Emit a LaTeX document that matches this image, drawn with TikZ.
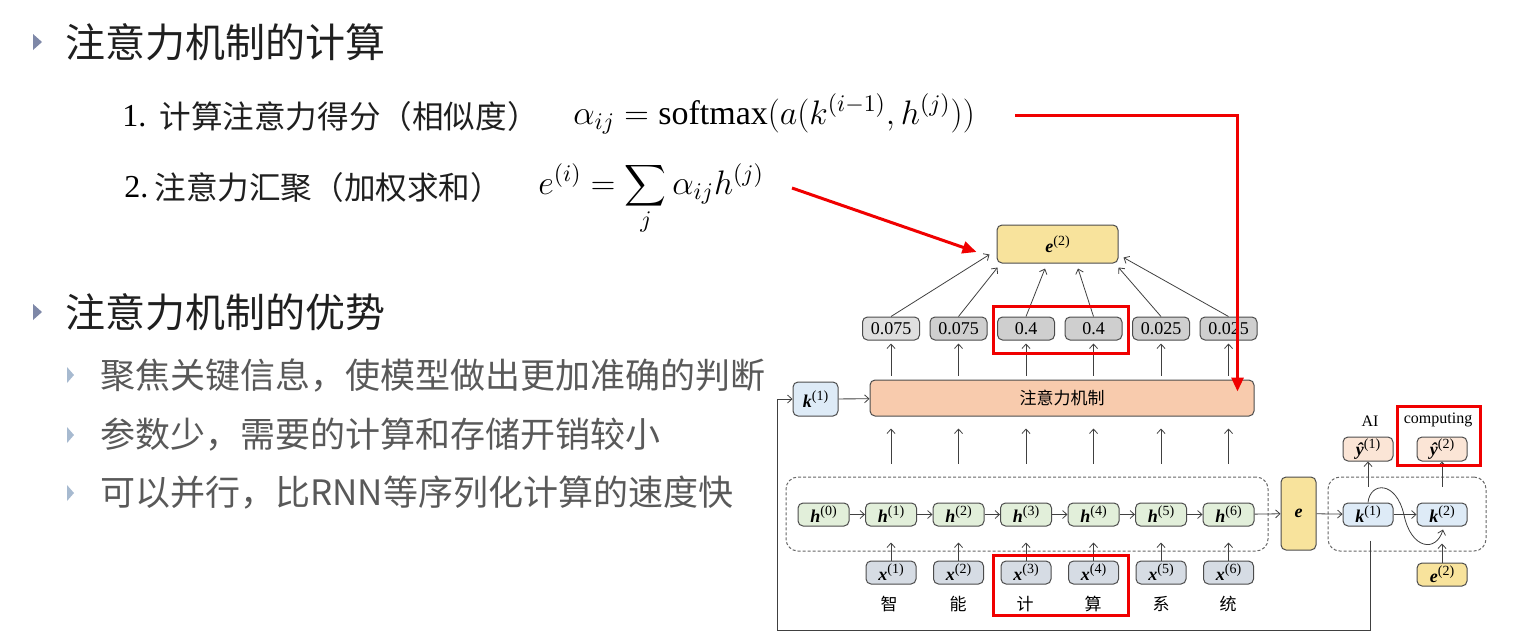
\RequirePackage{fix-cm}
\documentclass[tikz,border=0pt]{standalone}
\usepackage{fontspec}
\setmainfont{Liberation Serif}
\newfontfamily\cjk{Noto Sans CJK SC}
\usetikzlibrary{arrows.meta,calc}
\definecolor{titlec}{HTML}{1F1F1F}
\definecolor{subc}{HTML}{595959}
\definecolor{bulA}{HTML}{7E88A8}
\definecolor{bulB}{HTML}{A7BAD0}
\definecolor{hgreen}{HTML}{E2EFDA}
\definecolor{xgray}{HTML}{D6DCE4}
\definecolor{kblue}{HTML}{DEEBF7}
\definecolor{ypeach}{HTML}{FBE5D6}
\definecolor{eyellow}{HTML}{F8E39C}
\definecolor{attc}{HTML}{F8CBAD}
\definecolor{redc}{HTML}{F00000}
\newcommand\bvec[2]{\textbf{\textit{#1}}\raisebox{0.4em}{\fontsize{7}{8}\selectfont(#2)}}
\newcommand\bigsum{\mathop{\vcenter{\hbox{\scalebox{1.45}{$\displaystyle\sum$}}}}\limits}
\begin{document}
\begin{tikzpicture}[x=0.5pt,y=-0.5pt,
  box/.style={draw=black!70, line width=0.5pt, rounded corners=2.5pt, inner sep=0pt, font=\fontsize{9}{10}\selectfont},
  valbox/.style={box, fill=gray!38, minimum width=28.5pt, minimum height=11.5pt},
  hbox/.style={box, fill=hgreen, minimum width=25.5pt, minimum height=11.5pt},
  xbox/.style={box, fill=xgray, minimum width=25pt, minimum height=11.5pt},
  kbox/.style={box, fill=kblue, minimum width=25pt, minimum height=11.5pt},
  ybox/.style={box, fill=ypeach, minimum width=25pt, minimum height=12pt},
  ebox/.style={box, fill=eyellow},
  dashbox/.style={draw=black!60, line width=0.5pt, dash pattern=on 1.5pt off 1pt, rounded corners=6pt, inner sep=0pt, minimum height=37pt},
  arr/.style={draw=black!75, line width=0.4pt, -{Straight Barb[length=2.2pt,width=4pt]}},
  redarr/.style={draw=redc, line width=1.5pt, -{Triangle[length=7pt,width=6pt]}},
  redbox/.style={draw=redc, line width=1.5pt},
  lbl/.style={inner sep=0pt, font=\cjk\fontsize{8.5}{10}\selectfont}
]
\useasboundingbox (0,0) rectangle (1530,639);

% ---------- left text ----------
\fill[bulA] (33,34) -- (42,42) -- (33,50) -- cycle;
\node[anchor=west, inner sep=0, text=titlec, font=\cjk\fontsize{20}{24}\selectfont] (t1) at (65,42) {注意力机制的计算};

\node[anchor=west, inner sep=0, font=\fontsize{16}{18}\selectfont] (n1) at (122,116) {1.};
\node[anchor=west, inner sep=0, text=titlec, font=\cjk\fontsize{15.8}{18}\selectfont] (c1) at (159,116) {计算注意力得分（相似度）};
\node[anchor=base west, inner sep=0, font=\fontsize{17}{20}\selectfont] (f1) at (573,124) {$\alpha_{ij} = \mathrm{softmax}(a(k^{(i-1)}, h^{(j)}))$};

\node[anchor=west, inner sep=0, font=\fontsize{16}{18}\selectfont] (n2) at (124,187) {2.};
\node[anchor=west, inner sep=0, text=titlec, font=\cjk\fontsize{15.8}{18}\selectfont] (c2) at (154,187) {注意力汇聚（加权求和）};
\node[anchor=base west, inner sep=0, font=\fontsize{17}{20}\selectfont] (f2) at (538,194) {$e^{(i)} = \bigsum_{j} \alpha_{ij} h^{(j)}$};

\fill[bulA] (33,304) -- (42,312) -- (33,320) -- cycle;
\node[anchor=west, inner sep=0, text=titlec, font=\cjk\fontsize{20}{24}\selectfont] (t2) at (65,312) {注意力机制的优势};

\fill[bulB] (67,367) -- (74,375) -- (67,383) -- cycle;
\node[anchor=west, inner sep=0, text=subc, font=\cjk\fontsize{17.5}{20}\selectfont] (s1) at (100,375) {聚焦关键信息，使模型做出更加准确的判断};
\fill[bulB] (67,427) -- (74,435) -- (67,443) -- cycle;
\node[anchor=west, inner sep=0, text=subc, font=\cjk\fontsize{17.5}{20}\selectfont] (s2) at (100,435) {参数少，需要的计算和存储开销较小};
\fill[bulB] (67,485) -- (74,493) -- (67,501) -- cycle;
\node[anchor=west, inner sep=0, text=subc, font=\cjk\fontsize{17.5}{20}\selectfont] (s3) at (100,493) {可以并行，比RNN等序列化计算的速度快};

% ---------- diagram ----------
\node[ebox, minimum width=60.5pt, minimum height=19pt] (e2) at (1057.5,244) {\bvec{e}{2}};

\node[valbox, fill=gray!25] (v1) at (891,328.5) {0.075};
\node[valbox] (v2) at (958.5,328.5) {0.075};
\node[valbox] (v3) at (1026,328.5) {0.4};
\node[valbox] (v4) at (1093.5,328.5) {0.4};
\node[valbox] (v5) at (1161,328.5) {0.025};
\node[valbox] (v6) at (1228.5,328.5) {0.025};

\node[box, fill=attc, minimum width=192pt, minimum height=18pt, font=\cjk\fontsize{8.5}{10}\selectfont] (att) at (1062,398) {注意力机制};
\node[box, fill=kblue, minimum width=22.5pt, minimum height=17pt] (kL) at (815.5,399) {\bvec{k}{1}};

\node[dashbox, minimum width=241pt] (enc) at (1027,514) {};
\node[hbox] (h0) at (823.5,514.5) {\bvec{h}{0}};
\node[hbox] (h1) at (891,514.5) {\bvec{h}{1}};
\node[hbox] (h2) at (958.5,514.5) {\bvec{h}{2}};
\node[hbox] (h3) at (1026,514.5) {\bvec{h}{3}};
\node[hbox] (h4) at (1093.5,514.5) {\bvec{h}{4}};
\node[hbox] (h5) at (1161,514.5) {\bvec{h}{5}};
\node[hbox] (h6) at (1228.5,514.5) {\bvec{h}{6}};

\node[xbox] (x1) at (891,572.5) {\bvec{x}{1}};
\node[xbox] (x2) at (958.5,572.5) {\bvec{x}{2}};
\node[xbox] (x3) at (1026,572.5) {\bvec{x}{3}};
\node[xbox] (x4) at (1093.5,572.5) {\bvec{x}{4}};
\node[xbox] (x5) at (1161,572.5) {\bvec{x}{5}};
\node[xbox] (x6) at (1228.5,572.5) {\bvec{x}{6}};

\node[lbl] (l1) at (889,604) {智};
\node[lbl] (l2) at (958,604) {能};
\node[lbl] (l3) at (1025,604) {计};
\node[lbl] (l4) at (1093,604) {算};
\node[lbl] (l5) at (1161,604) {系};
\node[lbl] (l6) at (1228,604) {统};

\node[ebox, minimum width=17.5pt, minimum height=36.5pt] (e) at (1298.5,513.5) {\textbf{\textit{e}}};

\node[dashbox, minimum width=79pt] (dec) at (1407,514) {};
\node[kbox] (k1) at (1368,514.5) {\bvec{k}{1}};
\node[kbox] (k2) at (1442,514.5) {\bvec{k}{2}};
\node[ybox] (y1) at (1368,449) {\bvec{ŷ}{1}};
\node[ybox] (y2) at (1442,449) {\bvec{ŷ}{2}};
\node[ebox, minimum width=25pt, minimum height=11.5pt] (e2s) at (1442,574.5) {\bvec{e}{2}};
\node[inner sep=0, font=\fontsize{8}{9}\selectfont] (ai) at (1370,421) {AI};
\node[inner sep=0, font=\fontsize{8}{9}\selectfont] (comp) at (1438,420) {computing};

% connectors: values -> e2
\draw[arr] (v1.north) -- ([xshift=-3.5pt,yshift=4.5pt]e2.south west);
\draw[arr] (v2.north) -- ([xshift=0.5pt,yshift=-2pt]e2.south west);
\draw[arr] (v3.north) -- ([xshift=-6.25pt,yshift=-2.5pt]e2.south);
\draw[arr] (v4.north) -- ([xshift=10.25pt,yshift=-2.5pt]e2.south);
\draw[arr] (v5.north) -- ([xshift=0pt,yshift=-2pt]e2.south east);
\draw[arr] (v6.north) -- ([xshift=2.5pt,yshift=3pt]e2.south east);

\foreach \i in {1,...,6}{
  \draw[arr, shorten >=1.5pt] ($(att.north -| v\i)+(0,-4)$) -- (v\i.south);
  \draw[arr] ($(enc.north -| v\i)+(0,-13)$) -- ($(att.south -| v\i)+(0,12)$);
  \draw[arr] (x\i.north) -- ($(h\i.south)+(0,16)$);
}
\draw[arr] (h0) -- (h1);
\draw[arr] (h1) -- (h2);
\draw[arr] (h2) -- (h3);
\draw[arr] (h3) -- (h4);
\draw[arr] (h4) -- (h5);
\draw[arr] (h5) -- (h6);
\draw[arr] (h6) -- (e);
\draw[arr] (e) -- (k1);
\draw[arr] (k1) -- (k2);
\draw[arr] (kL) -- (att);
\draw[arr] ($(k1.north)+(0,-16)$) -- (y1.south);
\draw[arr] ($(k2.north)+(0,-16)$) -- (y2.south);
\draw[arr] (e2s.north) -- ($(k2.south)+(0,17)$);
\draw[arr] (k1.north) .. controls (1370,482) and (1396,480) .. (1404,515)
                     .. controls (1411,549) and (1436,553) .. ($(k2.south)+(1,3)$);
\coordinate (fb) at (777,630);
\draw[arr] ($(k1.south)+(2,14)$) |- (fb) |- (kL.west);

% red annotations
\coordinate (r1) at (1015,115);
\coordinate (r2) at (792,188);
\draw[redarr] (r1) -| ($(att.north east)+(-17,12)$);
\draw[redarr] (r2) -- ($(e2.west)+(-20,8)$);
\draw[redbox] (993,306) rectangle (1128,353);
\draw[redbox] (993,555) rectangle (1128,615);
\draw[redbox] (1397,406) rectangle (1480,465);
\end{tikzpicture}
\end{document}
